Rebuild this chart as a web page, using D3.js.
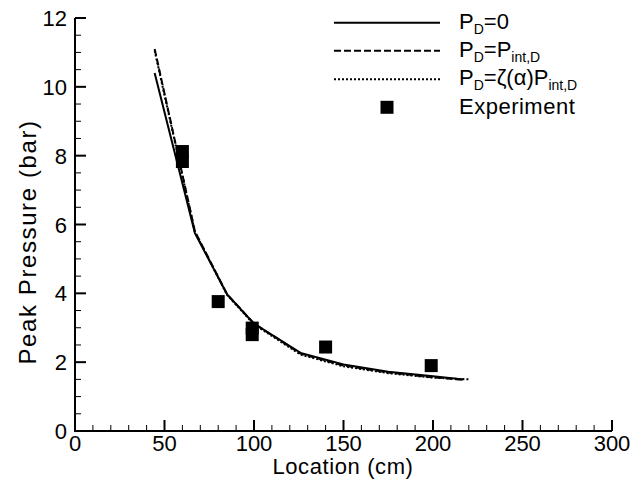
<!DOCTYPE html>
<html><head><meta charset="utf-8">
<script src="https://cdn.jsdelivr.net/npm/d3@7"></script>
<style>body{margin:0;background:#fff}svg{display:block}text{font-family:"Liberation Sans",Arial,sans-serif;fill:#000}</style>
</head><body>
<svg id="c" width="635" height="484"></svg>
<script>
const xTicks = [0, 50, 100, 150, 200, 250, 300];
const yTicks = [0, 2, 4, 6, 8, 10, 12];
const solidX = [44.5, 67, 85, 100, 126, 150, 175, 200, 217];
const solidY = [10.4, 5.75, 3.97, 3.12, 2.27, 1.93, 1.72, 1.59, 1.50];
const dashX = [44.5, 67, 85, 100, 126, 150, 175, 200, 218];
const dashY = [11.1, 5.8, 3.97, 3.12, 2.25, 1.90, 1.70, 1.56, 1.48];
const dotX = [44.5, 67, 85, 100, 126, 150, 175, 200, 220];
const dotY = [11.05, 5.78, 3.95, 3.10, 2.22, 1.88, 1.68, 1.55, 1.50];
const expX = [60, 60, 80, 99, 99, 140, 199];
const expY = [8.12, 7.83, 3.76, 2.99, 2.80, 2.44, 1.90];

const svg = d3.select("#c");
const x = d3.scaleLinear().domain([0, 300]).range([75, 612]);
const y = d3.scaleLinear().domain([0, 12]).range([431, 18]);

// minor ticks
const xMinor = d3.range(0, 301, 10);
const yMinor = d3.range(0, 12.01, 0.5);
const g = svg.append("g");
g.selectAll(".xm").data(xMinor).join("line")
  .attr("x1", d => x(d)).attr("x2", d => x(d))
  .attr("y1", y(0)).attr("y2", d => y(0) - (d % 50 === 0 ? 11 : 6))
  .attr("stroke", "#000").attr("stroke-width", d => d % 50 === 0 ? 2 : 1);
g.selectAll(".ym").data(yMinor).join("line")
  .attr("y1", d => y(d)).attr("y2", d => y(d))
  .attr("x1", x(0)).attr("x2", d => x(0) + (d % 2 === 0 ? 11 : 6))
  .attr("stroke", "#000").attr("stroke-width", d => d % 2 === 0 ? 2 : 1);
// axis lines
g.append("path").attr("d", `M${x(0)},${y(12)}V${y(0)}H${x(300)}`)
  .attr("fill", "none").attr("stroke", "#000").attr("stroke-width", 2);

// tick labels
g.selectAll(".xl").data(xTicks).join("text")
  .attr("x", d => x(d)).attr("y", 451).attr("text-anchor", "middle")
  .attr("font-size", 22).text(d => d);
g.selectAll(".yl").data(yTicks).join("text")
  .attr("x", 67).attr("y", d => y(d) + 8).attr("text-anchor", "end")
  .attr("font-size", 22).text(d => d);

// titles
svg.append("text").attr("x", 343).attr("y", 474).attr("text-anchor", "middle")
  .attr("font-size", 22).attr("letter-spacing", 0.6).text("Location (cm)");
svg.append("text").attr("transform", "translate(36,242) rotate(-90)")
  .attr("text-anchor", "middle").attr("font-size", 24).attr("letter-spacing", 1.6)
  .text("Peak Pressure (bar)");

// lines
const line = d3.line().x(d => x(d[0])).y(d => y(d[1]));
const series = [
  {xs: solidX, ys: solidY, dash: null},
  {xs: dashX, ys: dashY, dash: "7,3"},
  {xs: dotX, ys: dotY, dash: "2,2"}
];
series.forEach(s => {
  svg.append("path").datum(d3.zip(s.xs, s.ys)).attr("d", line)
    .attr("fill", "none").attr("stroke", "#000").attr("stroke-width", 2)
    .attr("stroke-dasharray", s.dash);
});

// experiment squares
const sq = 13;
svg.selectAll(".sq").data(d3.zip(expX, expY)).join("rect")
  .attr("x", d => x(d[0]) - sq / 2).attr("y", d => y(d[1]) - sq / 2)
  .attr("width", sq).attr("height", sq).attr("fill", "#000");

// legend
const leg = svg.append("g");
const legY = [22.7, 50.7, 79.3];
const dashes = [null, "7,3", "2,2"];
legY.forEach((ly, i) => {
  leg.append("line").attr("x1", 334).attr("x2", 440).attr("y1", ly).attr("y2", ly)
    .attr("stroke", "#000").attr("stroke-width", 2).attr("stroke-dasharray", dashes[i]);
});
leg.append("rect").attr("x", 387 - 6.5).attr("y", 107.3 - 6.5).attr("width", 13).attr("height", 13).attr("fill", "#000");

function legText(ly, parts) {
  const t = leg.append("text").attr("x", 459).attr("y", ly + 6).attr("font-size", 22);
  let shift = 0;
  parts.forEach(p => {
    const target = p.sub ? 5 : 0;
    const ts = t.append("tspan").attr("dy", target - shift).text(p.t);
    if (p.sub) ts.attr("font-size", 14);
    shift = target;
  });
}
legText(legY[0], [{t: "P"}, {t: "D", sub: true}, {t: "=0"}]);
legText(legY[1], [{t: "P"}, {t: "D", sub: true}, {t: "=P"}, {t: "int,D", sub: true}]);
legText(legY[2], [{t: "P"}, {t: "D", sub: true}, {t: "=\u03B6(\u03B1)P"}, {t: "int,D", sub: true}]);
leg.append("text").attr("x", 459).attr("y", 114).attr("font-size", 22).attr("letter-spacing", 0.5).text("Experiment");
</script>
</body></html>
